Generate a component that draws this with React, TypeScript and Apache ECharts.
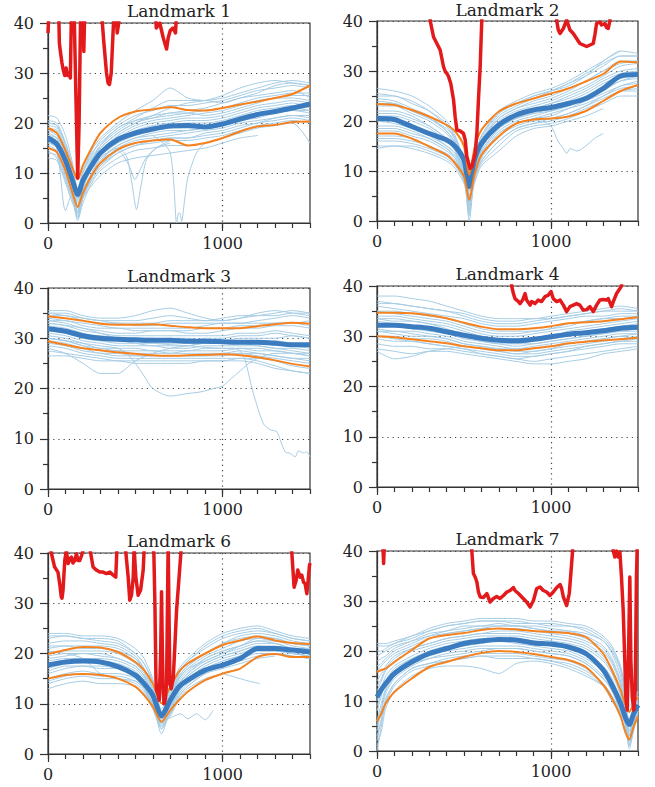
import React, { useEffect, useRef } from 'react';
import * as echarts from 'echarts';

// ---------------- Landmark 1 ----------------
const L1_X = [0, 50, 100, 140, 170, 200, 250, 300, 400, 500, 600, 700, 800, 900, 1000, 1100, 1200, 1300, 1400, 1500];
const L1_MEAN = [17, 15.8, 12.5, 8.5, 5.7, 8.5, 11.5, 14, 16.7, 18, 18.8, 19.4, 19.5, 19.2, 19.8, 20.8, 21.7, 22.3, 23, 23.8];
const L1_UPPER = [19, 18, 14.5, 11, 8.7, 11.5, 15, 18, 21, 22.3, 22.7, 23.2, 22.6, 22.5, 23, 23.7, 24.3, 25, 25.8, 27.5];
const L1_LOWER = [15, 14.2, 10.5, 6, 3.2, 6, 9.5, 12, 14.7, 16, 16.5, 16.7, 15.5, 16, 17, 18.3, 19.3, 19.6, 20.2, 20.3];
const L1_THIN = [
  [21.5, 21, 17.5, 12, 7, 10.5, 14.5, 17, 20, 22.5, 24.5, 27, 25, 24.5, 25, 26, 27, 28, 28.5, 28],
  [20.5, 20, 16, 11, 6, 10, 13.5, 16.5, 19.5, 21.5, 22.5, 23.5, 23.5, 24, 24.5, 25.5, 26.5, 27, 27.5, 27],
  [19.5, 19, 15, 10, 5, 9, 13, 15.5, 18.5, 20.5, 21.5, 22, 22.5, 23, 24, 25, 25.5, 26, 26.5, 25],
  [18.5, 18, 14, 9, 4, 8, 12, 14.5, 17.5, 19.5, 20.5, 21, 21.5, 22, 22.5, 23.5, 24.5, 25, 25.5, 25.5],
  [18, 17, 13, 8, 3, 7, 11, 14, 17, 19, 20, 20.5, 21, 21, 21.5, 22.5, 23.5, 24, 24.5, 24],
  [17.5, 17, 12.5, 8, 5, 8, 11.5, 14, 16.5, 18, 19, 19.5, 20, 20, 20.5, 21.5, 22.5, 23, 23.5, 23.5],
  [17, 16, 12, 7, 2, 7, 11, 13.5, 16, 17.5, 18.5, 19, 19, 19.5, 20, 21, 22, 22.5, 23, 22.5],
  [16.5, 15.5, 11, 6, 1, 6, 10, 13, 15.5, 17, 18, 18.5, 18.5, 19, 19.5, 20.5, 21, 22, 22.5, 22],
  [16, 15, 2.5, 6, 3, 6, 9.5, 12, 15, 16.5, 17, 17.5, 18, 18.5, 19, 20, 20.5, 21, 21.5, 21.5],
  [15.5, 14.5, 10, 6, 2, 5.5, 9, 11.5, 14.5, 16, 16.5, 17, 17, 17.5, 18, 19, 20, 20.5, 21, 20.5],
  [15, 14, 9.5, 5, 1, 5, 8.5, 11, 14, 15.5, 16, 16.5, 16.5, 17, 17.5, 18.5, 19.5, 20, 20.5, 20],
  [14, 13.5, 9, 5, 0.5, 4, 8, 10.5, 13, 14.5, 15, 15.5, 15.5, 16, 17, 18, 19, 19.5, 20, 16],
  [13, 12.5, 8, 4, 2, 5, 7.5, 9.5, 12, 13, 13.5, 14, 14.5, 15, 16, 17, 17.5, null, null, null],
  [20, 19.5, 15.5, 10, 6, 9, 12.5, 15, 18, 20, 21.5, 23, 24, 24.5, 25.5, 27, 28, 28.5, 28, 27.5],
  [20, 19.5, 16, 11.5, 6.5, 10, 14, 16, 19, 21, 23, 24.5, 24.5, 24.5, 24, 25, 26, 27.5, 28, 27.5],
  [19, 18.5, 14.5, 9.5, 4.5, 8.5, 12.5, 15, 18, 20, 21, 21.5, 22, 22.5, 23, 24, 25, 25.5, 26, 26],
  [17.5, 16.5, 12, 7.5, 3.5, 7.5, 11, 13.5, 16.5, 18.5, 19.5, 20, 20.5, 20.5, 21, 22, 23, 23.5, 24, 23],
  [16, 15.5, 11.5, 7, 2.5, 6.5, 10, 12.5, 15.5, 17, 17.5, 18, 18.5, 19, 19.5, 20.5, 21.5, 22, 22.5, 22.5],
  [14.5, 13, 8.5, 4.5, 1.5, 5, 9, 11.5, 14, 15.5, 16.5, 17, 17, 18, 18.5, 19.5, 20, 21, 21.5, 21],
  [18.5, 17.5, 13.5, 8.5, 5.5, 8.5, 12.5, 15.5, 19, 20.5, 21, 22, 22, 21.5, 22, 23, 24, 25, 25, 24.5],
];
const L1_OUT = [
  [[300, 12.5], [400, 14.5], [440, 13], [470, 11], [497, 8.7], [520, 10], [560, 13], [620, 15], [700, 16]],
  [[300, 13], [400, 15], [450, 13.3], [480, 8], [507, 2.7], [530, 7], [564, 12.7], [620, 15], [700, 16.5]],
  [[600, 17.5], [660, 16], [700, 14], [720, 8], [736, 0], [748, 2], [755, 2], [765, 0.3], [780, 4], [800, 9], [850, 14], [900, 16], [1000, 17]],
];
const L1_RED = [
  [0, 38], [8, 45], [60, 45], [65, 36], [72, 34], [80, 32], [88, 30.5], [96, 29.5], [104, 31], [112, 29.5],
  [120, 30], [128, 29], [133, 40], [137, 45], [148, 45], [160, 25], [170, 9], [178, 20], [188, 45], [200, 45],
  [205, 34.3], [212, 45], [300, 45], [320, 36], [335, 30], [344, 28], [352, 27.7], [362, 30], [375, 40], [380, 45],
  [386, 45], [396, 38], [405, 40], [415, 45], [610, 45], [620, 39], [640, 40], [660, 37], [679, 34.8], [688, 37],
  [700, 38.5], [715, 39], [730, 38], [740, 45], [1500, 45],
];

// ---------------- Landmark 2 ----------------
const L2_X = [0, 100, 200, 300, 400, 450, 500, 530, 560, 600, 700, 800, 900, 1000, 1100, 1200, 1300, 1400, 1500];
const L2_MEAN = [20.5, 20.3, 18.9, 17.5, 16.2, 14.9, 12.2, 6.9, 12.2, 15.5, 19.2, 21.2, 22.2, 22.7, 23.5, 24.5, 26.5, 29, 29.3];
const L2_UPPER = [23.4, 23.2, 22.2, 20.9, 19.2, 17.9, 14.9, 9.2, 14.5, 18.2, 21.9, 23.5, 24.5, 25.5, 26.5, 27.9, 29.4, 31.9, 31.7];
const L2_LOWER = [17.5, 17.5, 16.5, 14.9, 13.2, 11.5, 8.9, 4.2, 9.2, 13.2, 16.9, 19.5, 20.3, 20.5, 20.9, 22, 24, 26, 27.2];
const L2_THIN = [
  [26.5, 26, 25, 23, 20, 17, 12, 4, 12, 17, 22, 24, 25.5, 26.5, 28, 30, 32, 34, 33.5],
  [25.5, 25, 24, 22, 19, 16, 11, 3, 11, 16, 21, 23, 24.5, 26, 27.5, 29, 31, 33, 33],
  [24.5, 24, 22.5, 21, 18, 15.5, 11, 5, 11, 16, 20.5, 22.5, 24, 25, 26.5, 28, 30, 32, 32],
  [23, 23, 21.5, 20, 17.5, 15, 10.5, 2, 10, 15, 20, 22, 23, 24, 25.5, 27, 29, 31, 31.5],
  [22, 22, 21, 19, 16.5, 14.5, 10, 6, 10.5, 15, 19.5, 21.5, 22.5, 23.5, 25, 26.5, 28.5, 30, 30.5],
  [21, 21, 20, 18.5, 16, 14, 10, 1, 9.5, 14.5, 19, 21, 22, 23, 24, 25.5, 27.5, 29, 30],
  [20, 20, 19, 17.5, 15, 13.5, 9.5, 7, 11, 14, 18.5, 20.5, 21.5, 22.5, 23.5, 25, 27, 28.5, 29],
  [19, 19, 18, 16.5, 14.5, 13, 9, 0, 9, 13.5, 18, 20, 21, 22, 23, 24.5, 26, 28, 28.5],
  [18, 18, 17, 16, 14, 12.5, 9, 5, 9.5, 13, 17.5, 19.5, 20.5, 21, 22.5, 24, 25.5, 27, 28],
  [17, 17, 16.5, 15, 13.5, 12, 8.5, 3, 8.5, 12.5, 17, 19, 20, 20.5, 21.5, 23, 25, 26.5, 27],
  [16, 16, 15.5, 14.5, 13, 11.5, 8, 6, 9, 12, 16, 18.5, 19.5, 20, 21, 22.5, 24, 26, 26],
  [15, 15, 15, 14, 12.5, 11, 8, 2, 8, 11.5, 15, 18, 19, 19.5, 20.5, 22, 23.5, 25, 25],
  [14.5, 15, 14.5, 13.5, 12, 10.5, 7.5, 4, 7.5, 11, 14, 17, 18.5, 19, 20, 21, 22.5, null, null],
  [24, 23.5, 22, 20.5, 18.5, 16.5, 12, 8, 12.5, 17, 21.5, 23.5, 25, 26, 27, 29, 32, 34, null],
  [25, 25, 23.5, 22, 19.5, 16.5, 11.5, 5, 11.5, 16.5, 21.5, 23.5, 25, 26, 27.5, 29.5, 31.5, 33, 33],
  [23.5, 23.5, 22, 20.5, 18, 15.5, 10.5, 3.5, 10.5, 15.5, 20.5, 22.5, 23.5, 24.5, 26, 28, 30, 31.5, 32],
  [21.5, 21.5, 20.5, 19, 16.5, 14, 10, 2.5, 10, 14.5, 19.5, 21.5, 22.5, 23.5, 24.5, 26, 28, 29.5, 30],
  [20, 19.5, 18.5, 17, 15, 13.5, 9.5, 6, 10, 14, 18.5, 20.5, 21.5, 22, 23, 24.5, 26.5, 28, 29],
  [18.5, 18.5, 17.5, 16.5, 14.5, 12.5, 9, 1.5, 9, 13, 17.5, 19.5, 20.5, 21.5, 22.5, 23.5, 25, 27, 27.5],
  [16.5, 16.5, 16, 15, 13, 11.5, 8.5, 4.5, 8.5, 12, 16, 18.5, 19.5, 20.5, 21.5, 23, 24.5, 26, 26.5],
];
const L2_OUT = [
  [[950, 20], [1000, 19], [1040, 16], [1070, 14.5], [1090, 13.5], [1110, 14.5], [1150, 14], [1200, 15], [1250, 16.5], [1300, 17.5]],
];
const L2_RED = [
  [0, 45], [300, 45], [306, 40], [325, 36.8], [344, 35.5], [363, 34.2], [382, 30.9], [392, 29.9], [402, 29.5], [411, 28.9],
  [424, 27.5], [440, 24.2], [449, 20.9], [459, 18.2], [478, 18], [497, 17.5], [507, 16.2], [516, 12.9], [535, 10.5], [545, 10.8],
  [564, 13.5], [574, 17.5], [583, 24.2], [593, 30.9], [602, 40], [610, 45], [1025, 45], [1033, 40], [1042, 38.2], [1052, 37.5],
  [1071, 38.5], [1090, 40.2], [1109, 38.2], [1128, 37.5], [1147, 36.5], [1166, 35.5], [1185, 35.2], [1205, 34.9], [1224, 35.2], [1243, 35.5],
  [1252, 37.2], [1262, 39.5], [1281, 39.8], [1291, 39.2], [1310, 39.5], [1319, 38.7], [1329, 38.5], [1338, 40], [1350, 45], [1500, 45],
];

// ---------------- Landmark 3 ----------------
const L3_X = [0, 100, 200, 300, 400, 500, 600, 700, 800, 900, 1000, 1100, 1200, 1300, 1400, 1500];
const L3_MEAN = [31.9, 31.4, 30.5, 30, 29.8, 29.7, 29.6, 29.6, 29.4, 29.4, 29.3, 29.2, 29.2, 29, 28.7, 28.7];
const L3_UPPER = [34.4, 34, 33.5, 32.9, 32.7, 32.7, 32.8, 32.5, 32.2, 32, 32, 32, 32.4, 32.8, 33.1, 32.9];
const L3_LOWER = [29.4, 28.7, 28, 27.6, 27.2, 26.9, 26.6, 26.5, 26.6, 26.7, 26.8, 26.6, 26.2, 25.6, 24.9, 24.4];
const L3_THIN = [
  [35.5, 35.5, 34.5, 34, 34, 34.5, 35.5, 36, 35, 34, 33.5, 34, 34.5, 35, 35.5, 35],
  [35, 35, 34, 33.5, 33.5, 33.5, 34, 34.5, 34, 33.5, 33.5, 34, 35, 35.5, 35, 34.5],
  [34.5, 34.5, 33.5, 33, 33, 32.5, 32.5, 33, 33, 33, 33, 33, 33.5, 34, 34.5, 34],
  [34, 33.5, 33, 32.5, 32, 32, 32, 32, 32, 32.5, 33, 33, 33, 33, 33, 33.5],
  [33.5, 33, 32, 31.5, 31, 31, 31.5, 31.5, 31, 31, 31.5, 32, 32, 32.5, 32.5, 32],
  [33, 32.5, 31.5, 31, 30.5, 30.5, 30.5, 30.5, 30.5, 30.5, 30.5, 31, 31, 31.5, 31, 30.5],
  [32.5, 32, 31, 30, 30, 29.5, 29.5, 30, 30, 29.5, 29.5, 30, 30, 30, 30.5, 30],
  [32, 31, 30, 29.5, 29, 29, 29, 29, 29, 29, 29, 29.5, 29.5, 29.5, 29, 28.5],
  [31, 30.5, 29.5, 29, 28.5, 28.5, 28.5, 28, 28, 28.5, 28.5, 28.5, 28.5, 28, 28, 27.5],
  [30.5, 30, 29, 28, 28, 28, 27.5, 27.5, 27.5, 28, 28, 28, 27.5, 27.5, 27, 26.5],
  [30, 29.5, 28.5, 27.5, 27.5, 27, 27, 27, 27, 27, 27, 27.5, 27, 26.5, 26, 26],
  [29.5, 29, 28, 27, 27, 26.5, 26.5, 26.5, 26.5, 26.5, 26.5, 27, 26.5, 26, 25.5, 25],
  [28.5, 28, 27, 26.5, 26, 26, 26, 26, 26, 26, 26, 26, 26, 25.5, 24.5, 24],
  [27.5, 27, 26.5, 26, 25.5, 25.5, 25.5, 25.5, 25.5, 25.5, 25.5, 26, 25.5, 24.5, 23.5, 23],
  [26.5, 26.5, 26, 25.5, 25.5, 25, 25, 25, 25, 25.5, 25.5, 25.5, 25, 24, 23.5, 23],
  [35, 34.5, 34, 33.5, 33, 33, 33, 33.5, 33.5, 33.5, 34, 34.5, 34.5, 34.5, 35, 35],
  [33.5, 33.5, 32.5, 32, 32, 31.5, 31.5, 31.5, 31.5, 32, 32, 32.5, 32.5, 33, 33, 32.5],
  [32, 31.5, 30.5, 30.5, 30, 30, 30, 29.5, 29.5, 30, 30, 30.5, 30.5, 31, 30.5, 30],
  [31.5, 31, 30, 29.5, 29.5, 29, 28.5, 28.5, 28.5, 29, 29, 29, 29, 29, 28.5, 28],
  [30, 29.5, 28.5, 28, 27.5, 27.5, 27.5, 27, 27.5, 27.5, 27.5, 28, 28, 27.5, 27, 26.5],
  [29, 28.5, 27.5, 27, 26.5, 26.5, 26.5, 26.5, 26.5, 26.5, 27, 27, 27, 26.5, 26, 25.5],
];
const L3_OUT = [
  [[0, 28], [100, 27], [200, 25], [300, 23], [400, 23], [500, 25.5], [600, 27], [700, 28], [800, 28.5], [900, 29], [1000, 29], [1100, 29], [1200, 28.5], [1300, 28], [1400, 27.5], [1500, 27]],
  [[0, 30], [100, 29.5], [200, 29], [300, 28.5], [400, 28], [450, 27], [500, 25], [550, 22.5], [600, 20], [700, 18.5], [800, 19], [870, 19.3], [950, 20], [1000, 20.5], [1050, 22], [1100, 23.5], [1150, 25], [1200, 26], [1300, 27], [1400, 27], [1500, 27]],
  [[0, 33], [200, 32], [400, 30], [600, 29], [800, 28.5], [1000, 28], [1061, 28], [1100, 27.5], [1128, 25.7], [1176, 19], [1233, 13], [1271, 11.8], [1310, 11.4], [1329, 9.8], [1358, 7.4], [1386, 7.1], [1415, 6.4], [1434, 7.6], [1463, 7.2], [1482, 7.4], [1500, 6.4]],
];
const L3_RED: number[][] = [];

// ---------------- Landmark 4 ----------------
const L4_X = [0, 100, 200, 300, 400, 500, 600, 700, 800, 900, 1000, 1100, 1200, 1300, 1400, 1500];
const L4_MEAN = [32.2, 32.2, 31.9, 31.6, 30.9, 30.2, 29.6, 29.2, 29.1, 29.4, 29.9, 30.4, 30.7, 31.1, 31.6, 31.8];
const L4_UPPER = [34.7, 34.7, 34.6, 34.2, 33.6, 32.7, 31.9, 31.4, 31.4, 31.6, 32, 32.6, 32.8, 33, 33.4, 33.8];
const L4_LOWER = [30, 29.8, 29.4, 29, 28.6, 28, 27.6, 27.2, 27.2, 27.6, 28, 28.6, 28.9, 29.2, 29.4, 29.7];
const L4_THIN = [
  [38, 38, 37.5, 37, 36, 35, 34, 33.5, 33.5, 33.5, 34, 34.5, 35, 35.5, 36, 35.5],
  [37, 36.5, 36, 35.5, 35, 34.5, 33.5, 33, 33, 33.5, 33.5, 34, 34.5, 35, 35.5, 35],
  [36, 35.5, 35, 34.5, 34, 33.5, 32.5, 32, 32, 32.5, 33, 33.5, 34, 34, 34.5, 34.5],
  [35, 35, 34.5, 34, 33.5, 32.5, 31.5, 31, 31, 31, 31.5, 32.5, 33, 33.5, 34, 34],
  [34, 34, 33.5, 33, 32.5, 31.5, 30.5, 30, 30, 30.5, 31, 31.5, 32, 32.5, 33, 33.5],
  [33.5, 33, 33, 32.5, 31.5, 30.5, 30, 29.5, 29.5, 29.5, 30, 30.5, 31, 31.5, 32, 32.5],
  [33, 32.5, 32, 31.5, 31, 30, 29.5, 29, 28.5, 29, 29.5, 30, 30.5, 31, 31.5, 32],
  [32, 32, 31.5, 31, 30.5, 29.5, 29, 28.5, 28, 28.5, 29, 29.5, 30, 30.5, 31, 31],
  [31.5, 31, 31, 30.5, 30, 29, 28.5, 28, 27.5, 28, 28.5, 29, 29.5, 30, 30.5, 30.5],
  [31, 30.5, 30, 30, 29.5, 28.5, 28, 27.5, 27, 27, 27.5, 28, 28.5, 29, 29.5, 30],
  [30, 30, 29.5, 29.5, 29, 28, 27.5, 27, 26.5, 26.5, 27, 27.5, 28, 28.5, 29, 29],
  [29.5, 29, 29, 28.5, 28, 27.5, 27, 26.5, 26, 26, 26.5, 27, 27.5, 28, 28.5, 28.5],
  [28.5, 28, 28, 27.5, 27.5, 27, 26.5, 26, 25.5, 25, 25.5, 26, 26.5, 27, 27.5, 28],
  [27.5, 27, 26.5, 27, 27, 26.5, 26, 25.5, 25, 24.5, 24.5, 25, 25.5, 26.5, 27, 27.5],
  [27, 25.5, 26, 27, 27.5, 28, 27.5, 27, 26.5, 27, 27.5, 28.5, 29, 29.5, 30, 29.5],
  [36.5, 36.5, 36, 35.5, 35, 34, 33, 32.5, 32.5, 33, 33.5, 34, 34.5, 35, 35, 35],
  [35, 34.5, 34, 33.5, 33, 32, 31, 30.5, 30.5, 31, 31.5, 32, 33, 33.5, 33.5, 34],
  [33.5, 33.5, 33, 32.5, 32, 31, 30, 29.5, 29, 29.5, 30, 31, 31.5, 32, 32.5, 33],
  [32.5, 32.5, 32, 31.5, 31, 30, 29, 28.5, 28.5, 28.5, 29, 29.5, 30, 30.5, 31, 31.5],
  [31, 31, 30.5, 30, 29.5, 28.5, 28, 27.5, 27.5, 27.5, 28, 28.5, 29, 29.5, 30, 30.5],
  [30, 29.5, 29, 28.5, 28, 27.5, 26.5, 26, 25.5, 26, 26.5, 27, 28, 28.5, 29, 29.5],
];
const L4_OUT: number[][][] = [];
const L4_RED = [
  [770, 45], [774, 40], [784, 38.5], [793, 37.5], [813, 36.9], [822, 36.5], [837, 37.2], [851, 38.5], [860, 37.2], [880, 36.2],
  [889, 36.9], [908, 36.5], [927, 37.2], [946, 36.9], [966, 37.9], [985, 38.2], [1000, 38.9], [1013, 37.5], [1033, 36.9], [1052, 37.2],
  [1071, 36.2], [1090, 34.9], [1109, 35.9], [1128, 36.2], [1147, 36.5], [1166, 36.2], [1185, 35.2], [1205, 35.3], [1224, 35.9], [1243, 34.9],
  [1262, 36.2], [1281, 37.2], [1300, 37.3], [1319, 37.2], [1329, 37.5], [1348, 35.9], [1358, 36.9], [1377, 38.5], [1396, 39.5], [1405, 40],
  [1420, 45],
];

// ---------------- Landmark 6 ----------------
const L5_X = [0, 100, 200, 300, 400, 500, 550, 600, 650, 700, 750, 800, 900, 1000, 1100, 1200, 1300, 1400, 1500];
const L5_MEAN = [17.7, 18.3, 18.5, 18.3, 17.4, 15.7, 14, 11.7, 7.6, 10.7, 13.4, 14.7, 16.7, 17.7, 19, 21, 21, 20.7, 20.3];
const L5_UPPER = [19.9, 20.7, 21.3, 21.2, 20.3, 18.3, 16.7, 14, 10.1, 13.4, 16.4, 18, 20, 21.7, 22.6, 23.4, 22.6, 22.1, 21.9];
const L5_LOWER = [15, 15.7, 15.9, 15.7, 15, 13.4, 11.7, 9.4, 6.4, 8.7, 10.7, 12.4, 14.7, 16, 17, 19.3, 19.9, 19.3, 19.3];
const L5_THIN = [
  [24, 24, 23.5, 23.5, 23, 21, 19, 15, 9, 13, 17, 19, 22, 24, 25, 25.5, 24.5, 23.5, 23],
  [23, 23.5, 23, 23, 22.5, 20, 18, 14, 8, 12, 16, 18.5, 21, 23, 24, 24.5, 24, 23, 22.5],
  [22, 22.5, 22.5, 22, 21.5, 19.5, 17, 13, 7, 11.5, 15.5, 17.5, 20, 22, 23.5, 24, 23.5, 22.5, 22],
  [21, 21.5, 21.5, 21.5, 21, 19, 16.5, 12.5, 6, 11, 15, 17, 19.5, 21, 22.5, 23, 23, 22, 21.5],
  [20, 20.5, 20.5, 20.5, 20, 18, 16, 12, 8, 10.5, 14.5, 16.5, 19, 20.5, 21.5, 22.5, 22.5, 21.5, 21],
  [19, 19.5, 20, 20, 19, 17.5, 15.5, 11.5, 5, 10, 14, 16, 18.5, 20, 21, 22, 22, 21, 20.5],
  [18, 18.5, 19, 19, 18.5, 17, 15, 11, 7, 9.5, 13.5, 15.5, 18, 19.5, 20.5, 21.5, 21.5, 20.5, 20],
  [17, 18, 18.5, 18, 17.5, 16, 14, 10.5, 4, 9, 13, 15, 17.5, 19, 20, 21, 21, 20, 19.5],
  [16, 17, 17.5, 17, 17, 15.5, 13.5, 10, 6, 8.5, 12.5, 14.5, 17, 18.5, 19.5, 20.5, 20.5, 20, 19.5],
  [15, 16, 16.5, 16, 16, 15, 13, 9.5, 7.5, 8, 12, 14, 16.5, 18, 19, 20, 20, 19.5, 19],
  [14, 15, 15.5, 15, 15, 14, 12.5, 9, 5, 8, 11.5, 13.5, 16, 17, 18, 19, 19.5, null, null],
  [13, 14, 14.5, 14, 14, 13.5, 12, 9, 6.5, 7.5, 11, 13, 15, 16, 17, null, null, null, null],
  [20.5, 20, 19, 16, 15, 14.5, 13, 10, 7, 11, 15, 17, 18.5, 20, 21.5, 23, 22.5, 22, 21.5],
  [23.5, 23.5, 23, 22.5, 22, 20, 18, 14.5, 8.5, 12.5, 16.5, 18.5, 21.5, 23.5, 24.5, 25, 24, 23, 22.5],
  [21.5, 21.5, 21, 21, 20.5, 19, 17, 13, 7.5, 11.5, 15.5, 17.5, 20, 22, 23, 23.5, 23, 22, 21.5],
  [19.5, 20, 20, 19.5, 19, 17.5, 15.5, 11.5, 6.5, 10, 14, 16, 19, 20.5, 21.5, 22.5, 22, 21, 21],
  [18.5, 19, 19, 18.5, 18, 16.5, 14.5, 11, 5.5, 9.5, 13.5, 15.5, 18, 19.5, 20.5, 21.5, 21, 20.5, 20],
  [16.5, 17.5, 17.5, 17.5, 17, 15.5, 13.5, 10, 7, 9, 12.5, 14.5, 17, 18.5, 19.5, 20.5, 20.5, 20, 19.5],
  [14.5, 15.5, 16, 15.5, 15.5, 14.5, 13, 9.5, 5.5, 8, 11.5, 13.5, 16, 17.5, 18.5, 19.5, 20, 19.5, 19],
];
const L5_OUT = [
  [[690, 7], [760, 8], [800, 7], [850, 8], [900, 6.8], [946, 8.7]],
  [[1000, 16], [1100, 15], [1150, 14.5], [1214, 14]],
];
const L5_RED = [
  [0, 45], [19, 40], [38, 37.2], [57, 36.2], [67, 33.9], [76, 31.3], [80, 31], [86, 32.6], [96, 38.5], [105, 40.5],
  [115, 37.9], [125, 38.8], [134, 39.2], [143, 38], [153, 38.5], [163, 39.8], [172, 38.5], [182, 38.5], [192, 39.5], [201, 40.5],
  [210, 45], [220, 45], [239, 41], [258, 37.2], [277, 36.6], [296, 36.2], [315, 36.2], [335, 35.9], [354, 36.2], [373, 35.6],
  [388, 35.2], [396, 42], [420, 45], [446, 40], [459, 35.2], [468, 30.6], [478, 31.6], [488, 35.2], [493, 41], [503, 35.2],
  [516, 31.6], [530, 32.6], [545, 36.6], [551, 41], [580, 45], [606, 40], [612, 30], [618, 15], [621, 12.7], [630, 12],
  [637, 10.7], [645, 20], [650, 32.3], [655, 20], [660, 12], [665, 10], [672, 11], [679, 14], [684, 30], [688, 42],
  [692, 30], [698, 14], [705, 13], [717, 15], [727, 22], [736, 28.6], [750, 35], [765, 42], [800, 45], [1380, 45],
  [1396, 40], [1409, 33.2], [1421, 34.6], [1430, 36.6], [1444, 35.2], [1453, 35.6], [1463, 34.2], [1472, 33.9], [1482, 31.9], [1491, 35.2],
  [1497, 37.5], [1500, 38],
];

// ---------------- Landmark 7 ----------------
const L6_X = [0, 25, 50, 100, 200, 300, 400, 500, 600, 700, 800, 900, 1000, 1100, 1200, 1300, 1350, 1400, 1430, 1450, 1475, 1500];
const L6_MEAN = [10.8, 12.3, 13.5, 15.5, 17.8, 19.5, 20.5, 21.5, 22, 22.3, 22.2, 21.6, 21.4, 20.8, 19.5, 16.2, 13.2, 9.5, 6.5, 5.3, 7.5, 9.2];
const L6_UPPER = [15.8, 16.2, 16.5, 17.8, 20.2, 22.5, 23.2, 23.6, 24.2, 24.5, 24.3, 24, 23.8, 23.6, 22.8, 19.5, 16.2, 12.2, 9, 7.8, 9.5, 10.8];
const L6_LOWER = [5.9, 7.5, 9.5, 11.8, 14.5, 16.8, 17.8, 18.8, 19.6, 20, 19.8, 19.4, 18.8, 18.2, 16.8, 13.2, 10.5, 6.9, 3.5, 2.3, 4.9, 6.9];
const L6_THIN = [
  [21.5, 21.5, 21.5, 22, 23, 24.5, 25.5, 26, 26.5, 26.5, 26.5, 26, 26, 25.5, 25, 23, 21, 17, 12, 9, 10, 11],
  [20, 20, 20.5, 21.5, 22.5, 24, 25, 25.5, 26, 26, 25.5, 25.5, 25, 25, 24, 22, 20, 16, 10, 6, 8, 10],
  [18, 18.5, 19, 20.5, 22, 23.5, 24, 25, 25, 25.5, 25, 25, 24.5, 24, 23, 21, 18.5, 14, 8, 4, 7, 9.5],
  [16, 17, 18, 19.5, 21, 22.5, 23.5, 24, 24.5, 24.5, 24.5, 24, 23.5, 23, 22, 20, 17.5, 13, 7, 2, 6, 9],
  [14, 15.5, 17, 19, 20.5, 21.5, 22.5, 23, 23.5, 24, 24, 23.5, 23, 22.5, 21.5, 19, 16.5, 12, 6, 1, 5, 8.5],
  [12, 14, 16, 18, 20, 21, 22, 22.5, 23, 23, 23, 22.5, 22, 21.5, 20.5, 18, 15.5, 11, 5, 3, 6, 8],
  [10, 12.5, 15, 17, 19, 20.5, 21.5, 22, 22.5, 22.5, 22.5, 22, 21.5, 21, 19.5, 17, 14.5, 10, 4.5, 0.5, 4, 7.5],
  [8, 11, 13.5, 16, 18.5, 19.5, 20.5, 21, 21.5, 22, 21.5, 21, 20.5, 20, 18.5, 16, 14, 9, 5, 2, 5, 8],
  [6, 9.5, 12.5, 15, 18, 19, 20, 20.5, 21, 21, 21, 20.5, 20, 19.5, 18, 15, 13, 8.5, 6, 4, 6, 8.5],
  [4, 8, 11.5, 14.5, 17, 18.5, 19, 19.5, 20, 20.5, 20.5, 20, 19.5, 19, 17.5, 14.5, 12, 8, 5, 1, 5, 9],
  [2, 6.5, 10.5, 13.5, 16.5, 17.5, 18.5, 19, 19.5, 19.5, 19.5, 19, 18.5, 18, 16.5, 13.5, 11, 7, 4, 2.5, 6, 10],
  [0, 5, 9.5, 13, 16, 17, 18, 18.5, 19, 18.5, 18.5, 18.5, 18, 17, 15.5, 13, 10, 7.5, 5.5, 3, 7, 11],
  [1, 4, 8.5, 12, 15, 16.5, 17, 17, 16.5, 15.5, 17.5, 18, 17.5, 16.5, 15, 13, 11, 8, 6, 4, 8, 12],
  [19, 19.5, 20, 21, 22, 23, 23.5, 24, 24.5, 25, 25, 24.5, 24, 24, 23.5, 22, 19.5, 15, 9, 5, 8, 11],
  [21, 21, 21, 21.5, 23, 24, 25, 25.5, 26, 26, 26, 25.5, 25.5, 25, 24.5, 22.5, 20.5, 16.5, 11, 8, 9.5, 11],
  [17, 17.5, 18.5, 20, 21.5, 23, 24, 24.5, 25, 25, 25, 24.5, 24, 23.5, 22.5, 20.5, 18, 13.5, 8, 3, 6.5, 9.5],
  [13, 14.5, 16.5, 18.5, 20.5, 21.5, 22.5, 23, 23.5, 23.5, 23.5, 23, 22.5, 22, 21, 18.5, 16, 11.5, 6, 2, 5.5, 8.5],
  [9, 11.5, 14, 16.5, 18.5, 20, 21, 21.5, 22, 22, 22, 21.5, 21, 20.5, 19, 16.5, 14, 9.5, 5, 1.5, 5, 8],
  [5, 8.5, 12, 15, 17.5, 18.5, 19.5, 20, 20.5, 20.5, 20.5, 20, 19.5, 19, 17.5, 14.5, 12.5, 8.5, 5.5, 3.5, 6, 9],
  [3, 6, 10, 13.5, 16.5, 17.5, 18, 18.5, 19, 19, 19, 18.5, 18, 17.5, 16, 13.5, 11, 7.5, 5, 2, 6.5, 10.5],
];
const L6_OUT: number[][][] = [];
const L6_RED = [
  [25, 45], [35, 40], [38, 37.5], [41, 40], [48, 45],
  [540, 45], [545, 40], [554, 35.5], [564, 34.8], [574, 33.8], [583, 31.8], [593, 30.8], [612, 30.7], [631, 31.5], [650, 29.8],
  [669, 30.5], [688, 30.9], [707, 30.5], [727, 31.1], [746, 31.8], [765, 32.1], [784, 32.7], [793, 32.1], [813, 31.5], [832, 30.8],
  [860, 29.8], [880, 28.8], [899, 30.1], [918, 32.5], [937, 32.8], [956, 32.1], [975, 31.8], [994, 31.1], [1013, 31.8], [1033, 32.7],
  [1052, 33.3], [1061, 32.5], [1071, 30.8], [1090, 29.1], [1105, 31.5], [1113, 35], [1124, 40], [1130, 45],
  [1350, 45], [1358, 40], [1367, 38.8], [1377, 40], [1386, 38.8], [1396, 39.8], [1405, 34.8], [1415, 28.1], [1424, 18.2], [1430, 10.8],
  [1438, 8.2], [1445, 18.2], [1453, 34.8], [1459, 18.2], [1467, 10.8], [1476, 8.2], [1484, 12], [1491, 34.8], [1495, 40], [1500, 45],
];

const TITLES = ['Landmark 1', 'Landmark 2', 'Landmark 3', 'Landmark 4', 'Landmark 6', 'Landmark 7'];
const X_LABELS = [0, 1000];

// ---------------- layout & style ----------------
const GRIDS = [
  { left: 48, top: 23, width: 262, height: 200 },
  { left: 377, top: 21, width: 261, height: 200 },
  { left: 48, top: 288, width: 262, height: 201 },
  { left: 377, top: 286, width: 261, height: 201 },
  { left: 48, top: 553, width: 262, height: 201 },
  { left: 377, top: 551, width: 261, height: 200 },
];
const FONT = 'DejaVu Serif';
const AXIS_COLOR = '#333';
const THIN_COLOR = '#a6cce4';
const MEAN_COLOR = '#3a7cbf';
const BAND_COLOR = '#f5821f';
const RED_COLOR = '#e31a1c';

function zip(xs: number[], ys: (number | null)[]) {
  return xs.map((x, i) => [x, ys[i] === null || ys[i] === undefined ? null : ys[i]]);
}

function buildOption() {
  const panels = [
    { x: L1_X, mean: L1_MEAN, up: L1_UPPER, lo: L1_LOWER, thin: L1_THIN, out: L1_OUT, red: L1_RED },
    { x: L2_X, mean: L2_MEAN, up: L2_UPPER, lo: L2_LOWER, thin: L2_THIN, out: L2_OUT, red: L2_RED },
    { x: L3_X, mean: L3_MEAN, up: L3_UPPER, lo: L3_LOWER, thin: L3_THIN, out: L3_OUT, red: L3_RED },
    { x: L4_X, mean: L4_MEAN, up: L4_UPPER, lo: L4_LOWER, thin: L4_THIN, out: L4_OUT, red: L4_RED },
    { x: L5_X, mean: L5_MEAN, up: L5_UPPER, lo: L5_LOWER, thin: L5_THIN, out: L5_OUT, red: L5_RED },
    { x: L6_X, mean: L6_MEAN, up: L6_UPPER, lo: L6_LOWER, thin: L6_THIN, out: L6_OUT, red: L6_RED },
  ];
  const grid: any[] = [];
  const xAxis: any[] = [];
  const yAxis: any[] = [];
  const series: any[] = [];
  const title: any[] = [];
  const axisLineStyle = { color: AXIS_COLOR, width: 1.2 };
  const dotted = { color: '#444', width: 1.2, type: [1.2, 4] };
  const labelStyle = { fontFamily: FONT, fontSize: 16, color: '#222' };

  panels.forEach((p, i) => {
    const g = GRIDS[i];
    grid.push({ ...g, show: true, borderColor: AXIS_COLOR, borderWidth: 1.2, backgroundColor: 'transparent', containLabel: false });
    title.push({
      text: TITLES[i], left: g.left + g.width / 2, top: Math.max(1, g.top - 21), textAlign: 'center', textVerticalAlign: 'top', padding: 0,
      textStyle: { fontFamily: FONT, fontSize: 17, fontWeight: 'normal', color: '#222' },
    });
    xAxis.push({
      type: 'value', gridIndex: i, min: 0, max: 1500, interval: 100, position: 'bottom',
      axisLine: { show: true, onZero: false, lineStyle: axisLineStyle },
      axisTick: { show: true, length: 5, lineStyle: axisLineStyle },
      axisLabel: { show: false }, splitLine: { show: false },
    });
    xAxis.push({
      type: 'value', gridIndex: i, min: 0, max: 1500, interval: 1000, position: 'bottom',
      axisLine: { show: false, onZero: false },
      axisTick: { show: true, length: 8, customValues: X_LABELS, lineStyle: axisLineStyle },
      axisLabel: { ...labelStyle, margin: 12, customValues: X_LABELS, formatter: (v: number) => (v === 1500 ? '' : String(v)) },
      splitLine: { show: true, lineStyle: dotted },
    });
    yAxis.push({
      type: 'value', gridIndex: i, min: 0, max: 40, interval: 10,
      axisLine: { show: true, onZero: false, lineStyle: axisLineStyle },
      axisTick: { show: true, length: 8, lineStyle: axisLineStyle },
      minorTick: { show: true, splitNumber: 2, length: 5, lineStyle: axisLineStyle },
      axisLabel: { ...labelStyle, margin: 14 },
      splitLine: { show: true, lineStyle: dotted },
    });
    const base = { type: 'line', xAxisIndex: 2 * i, yAxisIndex: i, showSymbol: false, symbol: 'none', silent: true, clip: true, connectNulls: false };
    p.thin.forEach((ys) => {
      series.push({ ...base, data: zip(p.x, ys), smooth: 0.25, lineStyle: { color: THIN_COLOR, width: 1 } });
    });
    p.out.forEach((pts) => {
      series.push({ ...base, data: pts, smooth: 0.25, lineStyle: { color: THIN_COLOR, width: 1 } });
    });
    series.push({ ...base, data: zip(p.x, p.mean), smooth: 0.25, lineStyle: { color: MEAN_COLOR, width: 5 } });
    series.push({ ...base, data: zip(p.x, p.up), smooth: 0.25, lineStyle: { color: BAND_COLOR, width: 2 } });
    series.push({ ...base, data: zip(p.x, p.lo), smooth: 0.25, lineStyle: { color: BAND_COLOR, width: 2 } });
    if (p.red.length) {
      series.push({ ...base, data: p.red, lineStyle: { color: RED_COLOR, width: 3.5, join: 'round' } });
    }
  });

  return { animation: false, backgroundColor: '#fff', title, grid, xAxis, yAxis, series };
}

export default function App() {
  const ref = useRef<HTMLDivElement>(null);
  useEffect(() => {
    if (!ref.current) return;
    const chart = echarts.init(ref.current, null, { renderer: 'svg' });
    chart.setOption(buildOption() as any);
    return () => chart.dispose();
  }, []);
  return <div ref={ref} style={{ position: 'absolute', left: 0, top: 0, width: 655, height: 787, background: '#fff' }} />;
}
